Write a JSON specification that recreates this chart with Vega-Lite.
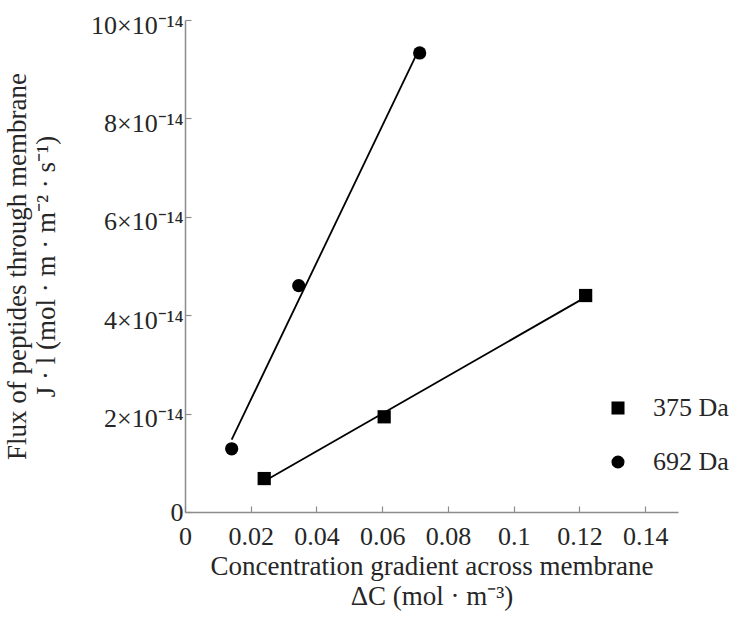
{
  "$schema": "https://vega.github.io/schema/vega-lite/v6.json",
  "width": 493,
  "height": 492,
  "autosize": {"type": "none"},
  "padding": {"left": 185, "top": 20, "right": 53, "bottom": 114},
  "background": "white",
  "config": {
    "view": {"stroke": null},
    "font": "Liberation Serif, Times New Roman, serif",
    "axis": {
      "labelFont": "Liberation Serif, Times New Roman, serif",
      "titleFont": "Liberation Serif, Times New Roman, serif",
      "labelFontSize": 26,
      "titleFontSize": 27,
      "labelColor": "#262626",
      "titleColor": "#262626",
      "titleFontWeight": "normal",
      "domainColor": "#8c8c8c",
      "tickColor": "#8c8c8c",
      "domainWidth": 1.5,
      "tickWidth": 1.2,
      "grid": false
    },
    "legend": {
      "labelFont": "Liberation Serif, Times New Roman, serif",
      "labelFontSize": 26,
      "labelColor": "#262626"
    }
  },
  "data": {
    "values": [
      {"dc": 0.0241, "flux": 0.68e-14, "series": "375 Da"},
      {"dc": 0.0606, "flux": 1.935e-14, "series": "375 Da"},
      {"dc": 0.1219, "flux": 4.40e-14, "series": "375 Da"},
      {"dc": 0.0142, "flux": 1.285e-14, "series": "692 Da"},
      {"dc": 0.0346, "flux": 4.60e-14, "series": "692 Da"},
      {"dc": 0.0714, "flux": 9.33e-14, "series": "692 Da"}
    ]
  },
  "layer": [
    {
      "transform": [
        {"regression": "flux", "on": "dc", "groupby": ["series"]}
      ],
      "mark": {"type": "line", "color": "black", "strokeWidth": 1.8},
      "encoding": {
        "x": {"field": "dc", "type": "quantitative"},
        "y": {"field": "flux", "type": "quantitative"},
        "detail": {"field": "series"}
      }
    },
    {
      "mark": {"type": "point", "filled": true, "opacity": 1, "color": "black"},
      "encoding": {
        "x": {
          "field": "dc",
          "type": "quantitative",
          "scale": {"domain": [0, 0.15], "nice": false, "zero": false},
          "axis": {
            "values": [0, 0.02, 0.04, 0.06, 0.08, 0.1, 0.12, 0.14],
            "labelExpr": "datum.value == 0 ? '0' : format(datum.value, '.2~f')",
            "tickSize": -6,
            "labelPadding": 17,
            "labelFlush": false,
            "title": ["Concentration gradient across membrane", "ΔC (mol · m⁻³)"],
            "titlePadding": 4,
            "titleLineHeight": 30
          }
        },
        "y": {
          "field": "flux",
          "type": "quantitative",
          "scale": {"domain": [0, 1e-13], "nice": false, "zero": false},
          "axis": {
            "values": [0, 2e-14, 4e-14, 6e-14, 8e-14, 1e-13],
            "labelExpr": "datum.value == 0 ? '0' : round(datum.value * 1e14) + '×10⁻¹⁴'",
            "tickSize": -6,
            "labelPadding": 8,
            "labelOffset": {"condition": {"test": "datum.value == 0", "value": 0}, "value": 5},
            "labelFlush": false,
            "title": ["Flux of peptides through membrane", "J · l (mol · m · m⁻² · s⁻¹)"],
            "titlePadding": 30,
            "titleLineHeight": 29
          }
        },
        "shape": {
          "field": "series",
          "type": "nominal",
          "scale": {"domain": ["375 Da", "692 Da"], "range": ["square", "circle"]},
          "legend": {
            "title": null,
            "orient": "none",
            "legendX": 420,
            "legendY": 375,
            "symbolSize": 170,
            "symbolFillColor": "black",
            "symbolStrokeColor": "black",
            "symbolOpacity": 1,
            "rowPadding": 28,
            "labelOffset": 22
          }
        },
        "size": {"value": 175}
      }
    }
  ]
}
